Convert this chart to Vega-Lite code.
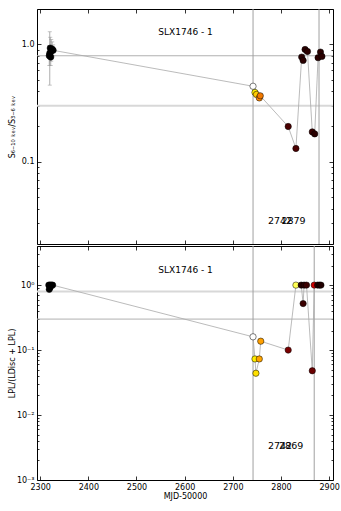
{
  "$schema": "https://vega.github.io/schema/vega-lite/v6.json",
  "autosize": {"type": "pad"},
  "padding": {"left": 7, "top": 8, "right": 0, "bottom": 0},
  "background": "white",
  "config": {
    "font": "DejaVu Sans",
    "view": {"stroke": "black", "strokeWidth": 1},
    "axis": {"labelFont": "DejaVu Sans", "labelFontSize": 8, "labelColor": "black", "titleFont": "DejaVu Sans", "titleFontSize": 8, "titleFontWeight": "normal", "titleColor": "black", "domain": false, "grid": false, "tickColor": "black", "tickWidth": 0.8}
  },
  "spacing": 0,
  "datasets": {
    "top": [
      {"m": 2319, "v": 0.80, "lo": 0.66, "hi": 0.98, "c": "#000000"},
      {"m": 2320, "v": 0.84, "lo": 0.45, "hi": 1.28, "c": "#000000"},
      {"m": 2321, "v": 0.93, "lo": 0.75, "hi": 1.15, "c": "#000000"},
      {"m": 2322, "v": 0.78, "lo": 0.66, "hi": 0.92, "c": "#000000"},
      {"m": 2323, "v": 0.88, "lo": 0.72, "hi": 1.10, "c": "#000000"},
      {"m": 2325, "v": 0.91, "lo": 0.78, "hi": 1.05, "c": "#000000"},
      {"m": 2327, "v": 0.89, "lo": 0.80, "hi": 0.99, "c": "#000000"},
      {"m": 2742, "v": 0.44, "c": "#ffffff"},
      {"m": 2746, "v": 0.39, "c": "#ffee00"},
      {"m": 2749, "v": 0.375, "c": "#ffcc00"},
      {"m": 2755, "v": 0.35, "c": "#ff8800"},
      {"m": 2757, "v": 0.365, "c": "#f07800"},
      {"m": 2815, "v": 0.20, "c": "#4a0000"},
      {"m": 2831, "v": 0.13, "c": "#4a0000"},
      {"m": 2843, "v": 0.78, "c": "#2a0000"},
      {"m": 2846, "v": 0.73, "c": "#2a0000"},
      {"m": 2850, "v": 0.905, "c": "#2a0000"},
      {"m": 2855, "v": 0.87, "c": "#2a0000"},
      {"m": 2865, "v": 0.18, "c": "#3a0000"},
      {"m": 2870, "v": 0.173, "c": "#2a0000"},
      {"m": 2877, "v": 0.77, "c": "#2a0000"},
      {"m": 2882, "v": 0.86, "c": "#2a0000"},
      {"m": 2885, "v": 0.79, "c": "#2a0000"}
    ],
    "bot": [
      {"m": 2318, "v": 1.0, "c": "#000000"},
      {"m": 2319, "v": 0.86, "c": "#000000"},
      {"m": 2320, "v": 1.0, "c": "#000000"},
      {"m": 2321, "v": 0.93, "c": "#000000"},
      {"m": 2322, "v": 1.0, "c": "#000000"},
      {"m": 2324, "v": 1.0, "c": "#000000"},
      {"m": 2326, "v": 1.0, "c": "#000000"},
      {"m": 2742, "v": 0.16, "c": "#ffffff"},
      {"m": 2746, "v": 0.073, "c": "#ffee00"},
      {"m": 2748, "v": 0.044, "c": "#ffe000"},
      {"m": 2755, "v": 0.073, "c": "#ffa500"},
      {"m": 2758, "v": 0.137, "c": "#ffa000"},
      {"m": 2815, "v": 0.10, "c": "#7a0000"},
      {"m": 2831, "v": 1.0, "c": "#ffff55"},
      {"m": 2842, "v": 1.0, "c": "#2a0000"},
      {"m": 2846, "v": 0.52, "c": "#3a0000"},
      {"m": 2848, "v": 1.0, "c": "#2a0000"},
      {"m": 2853, "v": 1.0, "c": "#3a0000"},
      {"m": 2865, "v": 0.048, "c": "#6a0000"},
      {"m": 2869, "v": 1.0, "c": "#cc0000"},
      {"m": 2876, "v": 1.0, "c": "#2a0000"},
      {"m": 2880, "v": 1.0, "c": "#200000"},
      {"m": 2883, "v": 1.0, "c": "#200000"}
    ]
  },
  "vconcat": [
    {
      "width": 296,
      "height": 235,
      "layer": [
        {
          "data": {"values": [{"y": 0.8, "c": "#b0b0b0", "w": 1}, {"y": 0.3, "c": "#d8d8d8", "w": 2}]},
          "mark": {"type": "rule"},
          "encoding": {
            "y": {"field": "y", "type": "quantitative", "scale": {"type": "log", "domain": [0.02, 2], "nice": false},
              "axis": {"orient": "right", "labels": false, "title": null, "values": [0.02,0.03,0.04,0.05,0.06,0.07,0.08,0.09,0.1,0.2,0.3,0.4,0.5,0.6,0.7,0.8,0.9,1,2],
                "tickSize": {"condition": {"test": "abs(log(datum.value)/LN10 - round(log(datum.value)/LN10)) < 0.001", "value": -4}, "value": -2}}},
            "color": {"field": "c", "type": "nominal", "scale": null},
            "strokeWidth": {"field": "w", "type": "quantitative", "scale": null}
          }
        },
        {
          "data": {"values": [{"x": 2742}, {"x": 2879}]},
          "mark": {"type": "rule", "color": "#a0a0a0", "strokeWidth": 1},
          "encoding": {
            "x": {"field": "x", "type": "quantitative", "scale": {"domain": [2293.5, 2908], "nice": false, "zero": false},
              "axis": {"orient": "top", "labels": false, "title": null, "values": [2300,2400,2500,2600,2700,2800,2900], "tickSize": -4}}
          }
        },
        {
          "data": {"name": "top"},
          "mark": {"type": "rule", "color": "#999999", "strokeWidth": 0.8},
          "encoding": {
            "x": {"field": "m", "type": "quantitative", "axis": null},
            "y": {"field": "lo", "type": "quantitative", "axis": null},
            "y2": {"field": "hi"}
          }
        },
        {
          "data": {"name": "top"},
          "transform": [{"filter": "isValid(datum.lo)"}, {"fold": ["lo", "hi"], "as": ["k", "e"]}],
          "mark": {"type": "tick", "orient": "horizontal", "color": "#999999", "size": 4, "thickness": 0.8},
          "encoding": {
            "x": {"field": "m", "type": "quantitative", "axis": null},
            "y": {"field": "e", "type": "quantitative", "axis": null}
          }
        },
        {
          "data": {"name": "top"},
          "mark": {"type": "line", "color": "#aaaaaa", "strokeWidth": 0.8},
          "encoding": {
            "x": {"field": "m", "type": "quantitative", "axis": null},
            "y": {"field": "v", "type": "quantitative", "axis": null}
          }
        },
        {
          "data": {"name": "top"},
          "mark": {"type": "circle", "size": 40, "stroke": "black", "strokeWidth": 0.5, "opacity": 1},
          "encoding": {
            "x": {"field": "m", "type": "quantitative",
              "axis": {"orient": "bottom", "labels": false, "title": null, "values": [2300,2400,2500,2600,2700,2800,2900], "tickSize": -4}},
            "y": {"field": "v", "type": "quantitative",
              "axis": {"orient": "left", "title": "S₆₋₁₀ ₖₑᵥ/S₃₋₆ ₖₑᵥ", "titlePadding": 1, "labelPadding": 7, "minExtent": 20, "maxExtent": 20,
                "values": [0.02,0.03,0.04,0.05,0.06,0.07,0.08,0.09,0.1,0.2,0.3,0.4,0.5,0.6,0.7,0.8,0.9,1,2],
                "labelExpr": "abs(log(datum.value)/LN10 - round(log(datum.value)/LN10)) < 0.001 ? (datum.value > 0.5 ? '1.0' : '0.1') : ''",
                "tickSize": {"condition": {"test": "abs(log(datum.value)/LN10 - round(log(datum.value)/LN10)) < 0.001", "value": -4}, "value": -2}}},
            "fill": {"field": "c", "type": "nominal", "scale": null}
          }
        },
        {
          "data": {"values": [{"m": 2773, "v": 0.0314, "t": "2742"}, {"m": 2801, "v": 0.0314, "t": "2879"}]},
          "mark": {"type": "text", "align": "left", "baseline": "middle", "fontSize": 9.5, "color": "black"},
          "encoding": {
            "x": {"field": "m", "type": "quantitative", "axis": null},
            "y": {"field": "v", "type": "quantitative", "axis": null},
            "text": {"field": "t"}
          }
        },
        {
          "data": {"values": [{"m": 2602, "v": 1.28, "t": "SLX1746 - 1"}]},
          "mark": {"type": "text", "align": "center", "baseline": "middle", "fontSize": 9, "color": "black"},
          "encoding": {
            "x": {"field": "m", "type": "quantitative", "axis": null},
            "y": {"field": "v", "type": "quantitative", "axis": null},
            "text": {"field": "t"}
          }
        }
      ],
      "resolve": {"axis": {"x": "independent", "y": "independent"}}
    },
    {
      "width": 296,
      "height": 234,
      "layer": [
        {
          "data": {"values": [{"y": 0.8, "c": "#d8d8d8", "w": 2}, {"y": 0.3, "c": "#b0b0b0", "w": 1}]},
          "mark": {"type": "rule"},
          "encoding": {
            "y": {"field": "y", "type": "quantitative", "scale": {"type": "log", "domain": [0.001, 4], "nice": false},
              "axis": {"orient": "right", "labels": false, "title": null,
                "values": [0.001,0.002,0.003,0.004,0.005,0.006,0.007,0.008,0.009,0.01,0.02,0.03,0.04,0.05,0.06,0.07,0.08,0.09,0.1,0.2,0.3,0.4,0.5,0.6,0.7,0.8,0.9,1,2,3,4],
                "tickSize": {"condition": {"test": "abs(log(datum.value)/LN10 - round(log(datum.value)/LN10)) < 0.001", "value": -4}, "value": -2}}},
            "color": {"field": "c", "type": "nominal", "scale": null},
            "strokeWidth": {"field": "w", "type": "quantitative", "scale": null}
          }
        },
        {
          "data": {"values": [{"x": 2742}, {"x": 2869}]},
          "mark": {"type": "rule", "color": "#a0a0a0", "strokeWidth": 1},
          "encoding": {
            "x": {"field": "x", "type": "quantitative", "scale": {"domain": [2293.5, 2908], "nice": false, "zero": false},
              "axis": {"orient": "top", "labels": false, "title": null, "values": [2300,2400,2500,2600,2700,2800,2900], "tickSize": -4}}
          }
        },
        {
          "data": {"name": "bot"},
          "mark": {"type": "line", "color": "#aaaaaa", "strokeWidth": 0.8},
          "encoding": {
            "x": {"field": "m", "type": "quantitative", "axis": null},
            "y": {"field": "v", "type": "quantitative", "axis": null}
          }
        },
        {
          "data": {"name": "bot"},
          "mark": {"type": "circle", "size": 40, "stroke": "black", "strokeWidth": 0.5, "opacity": 1},
          "encoding": {
            "x": {"field": "m", "type": "quantitative",
              "axis": {"orient": "bottom", "title": "MJD-50000", "titlePadding": 1, "labelPadding": 7, "format": "d", "values": [2300,2400,2500,2600,2700,2800,2900], "tickSize": -4, "labelFlush": false}},
            "y": {"field": "v", "type": "quantitative",
              "axis": {"orient": "left", "title": "LPL/(LDisc + LPL)", "titlePadding": 1, "labelPadding": 7, "minExtent": 20, "maxExtent": 20,
                "values": [0.001,0.002,0.003,0.004,0.005,0.006,0.007,0.008,0.009,0.01,0.02,0.03,0.04,0.05,0.06,0.07,0.08,0.09,0.1,0.2,0.3,0.4,0.5,0.6,0.7,0.8,0.9,1,2,3,4],
                "labelExpr": "abs(log(datum.value)/LN10 - round(log(datum.value)/LN10)) < 0.001 ? (datum.value > 0.5 ? '10⁰' : datum.value > 0.05 ? '10⁻¹' : datum.value > 0.005 ? '10⁻²' : '10⁻³') : ''",
                "tickSize": {"condition": {"test": "abs(log(datum.value)/LN10 - round(log(datum.value)/LN10)) < 0.001", "value": -4}, "value": -2}}},
            "fill": {"field": "c", "type": "nominal", "scale": null}
          }
        },
        {
          "data": {"values": [{"m": 2773, "v": 0.0033, "t": "2742"}, {"m": 2796, "v": 0.0033, "t": "2869"}]},
          "mark": {"type": "text", "align": "left", "baseline": "middle", "fontSize": 9.5, "color": "black"},
          "encoding": {
            "x": {"field": "m", "type": "quantitative", "axis": null},
            "y": {"field": "v", "type": "quantitative", "axis": null},
            "text": {"field": "t"}
          }
        },
        {
          "data": {"values": [{"m": 2602, "v": 1.72, "t": "SLX1746 - 1"}]},
          "mark": {"type": "text", "align": "center", "baseline": "middle", "fontSize": 9, "color": "black"},
          "encoding": {
            "x": {"field": "m", "type": "quantitative", "axis": null},
            "y": {"field": "v", "type": "quantitative", "axis": null},
            "text": {"field": "t"}
          }
        }
      ],
      "resolve": {"axis": {"x": "independent", "y": "independent"}}
    }
  ]
}
